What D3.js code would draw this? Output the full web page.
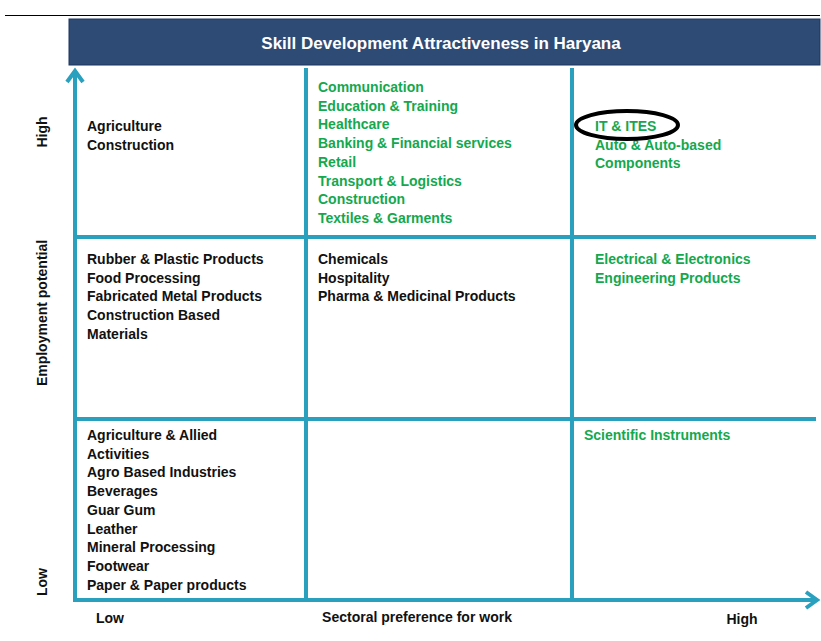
<!DOCTYPE html><html><head><meta charset="utf-8"><script src="https://cdn.jsdelivr.net/npm/d3@7"></script>
<style>body{margin:0;background:#fff}text{font-family:"Liberation Sans",Arial,sans-serif;font-weight:bold}</style></head><body><svg id="c" width="821" height="641"></svg>
<script>
const title="Skill Development Attractiveness in Haryana";
const cols=["Low","Medium","High"];
const rows=["High","Medium","Low"];
const cells=[
 {c:"Low",r:"High",g:false,items:["Agriculture","Construction"]},
 {c:"Medium",r:"High",g:true,items:["Communication","Education & Training","Healthcare","Banking & Financial services","Retail","Transport & Logistics","Construction","Textiles & Garments"]},
 {c:"High",r:"High",g:true,items:["IT & ITES","Auto & Auto-based","Components"]},
 {c:"Low",r:"Medium",g:false,items:["Rubber & Plastic Products","Food Processing","Fabricated Metal Products","Construction  Based","Materials"]},
 {c:"Medium",r:"Medium",g:false,items:["Chemicals","Hospitality","Pharma & Medicinal Products"]},
 {c:"High",r:"Medium",g:true,items:["Electrical & Electronics","Engineering Products"]},
 {c:"Low",r:"Low",g:false,items:["Agriculture & Allied","Activities","Agro Based Industries","Beverages","Guar Gum","Leather","Mineral Processing","Footwear","Paper & Paper products"]},
 {c:"High",r:"Low",g:true,items:["Scientific Instruments"]}
];
const svg=d3.select("#c");
const blue="#2AA0BF", green="#14A84E";
const x=d3.scaleBand().domain(cols).range([75,838]);
const y=d3.scaleBand().domain(rows).range([55,601]);
svg.append("line").attr("x1",5).attr("x2",820).attr("y1",15.5).attr("y2",15.5).attr("stroke","#000");
svg.append("rect").attr("x",69).attr("y",19).attr("width",751).attr("height",46).attr("fill","#2D4B75").attr("stroke","#1d3560");
svg.append("text").attr("x",441).attr("y",49).attr("text-anchor","middle").attr("fill","#fff").attr("font-size",17).text(title);
// grid
[306,572].forEach(v=>svg.append("line").attr("x1",v).attr("x2",v).attr("y1",68).attr("y2",600).attr("stroke",blue).attr("stroke-width",4));
[237,419].forEach(v=>svg.append("line").attr("x1",75).attr("x2",816).attr("y1",v).attr("y2",v).attr("stroke",blue).attr("stroke-width",4));
// axes
svg.append("line").attr("x1",75).attr("x2",75).attr("y1",72).attr("y2",602).attr("stroke",blue).attr("stroke-width",4);
svg.append("line").attr("x1",73).attr("x2",815).attr("y1",600).attr("y2",600).attr("stroke",blue).attr("stroke-width",4);
svg.append("path").attr("d","M67,82 L75,71 L83,82").attr("fill","none").attr("stroke",blue).attr("stroke-width",4);
svg.append("path").attr("d","M806,592 L817,600 L806,608").attr("fill","none").attr("stroke",blue).attr("stroke-width",4);
const colX={Low:87,Medium:318,High:595};
const rowY={High:131,Medium:264,Low:440};
cells.forEach(d=>{
  let cx=colX[d.c], cy=rowY[d.r];
  if(d.c==="Medium"&&d.r==="High") cy=92;
  if(d.c==="High"&&d.r==="Low") cx=584;
  const t=svg.append("text").attr("font-size",14).attr("fill",d.g?green:"#111");
  d.items.forEach((s,i)=>t.append("tspan").attr("x",cx).attr("y",cy+i*18.7).text(s));
});
svg.append("ellipse").attr("cx",627).attr("cy",125).attr("rx",51).attr("ry",14).attr("fill","none").attr("stroke","#000").attr("stroke-width",4);
const lab=(t,tx,ty,rot,a)=>svg.append("text").attr("transform",`translate(${tx},${ty}) rotate(${rot})`).attr("text-anchor",a||"middle").attr("font-size",14).attr("fill","#111").text(t);
lab("High",47,132,-90);lab("Employment  potential",47,313,-90);lab("Low",47,582,-90);
lab("Low",110,623,0);lab("Sectoral preference  for work",417,622,0);lab("High",742,624,0);
</script></body></html>
